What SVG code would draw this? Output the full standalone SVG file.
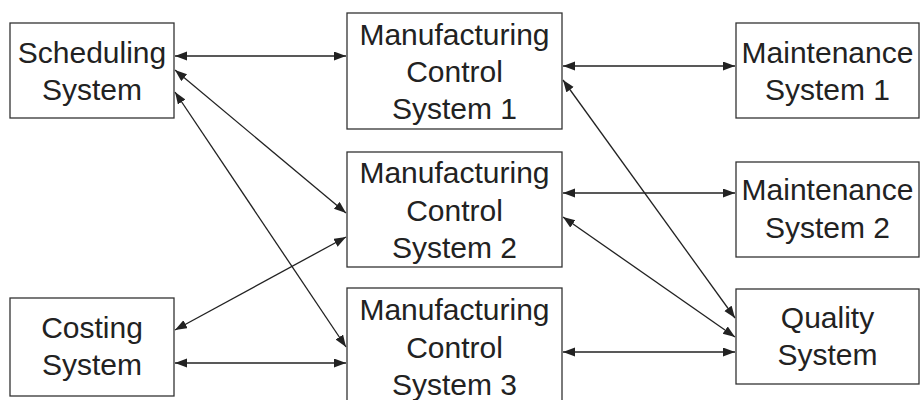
<svg xmlns="http://www.w3.org/2000/svg" width="920" height="400" viewBox="0 0 920 400">
<style>
  .box{fill:#fff;stroke:#333;stroke-width:1.3}
  .t{font-family:"Liberation Sans",Arial,sans-serif;font-size:30px;fill:#222;text-anchor:middle}
  .c{stroke:#222;stroke-width:1.3;fill:none;marker-start:url(#ah);marker-end:url(#ah)}
</style>
<defs>
  <marker id="ah" markerUnits="userSpaceOnUse" markerWidth="13" markerHeight="10" refX="12" refY="4.5" orient="auto-start-reverse">
    <path d="M0,0 L12,4.5 L0,9 z" fill="#222"/>
  </marker>
</defs>
<rect width="920" height="400" fill="#fff"/>
<g id="connectors">
  <line class="c" x1="175" y1="56" x2="346" y2="56"/>
  <line class="c" x1="175" y1="70" x2="346" y2="213"/>
  <line class="c" x1="175" y1="92" x2="346" y2="347"/>
  <line class="c" x1="346" y1="237" x2="175" y2="330"/>
  <line class="c" x1="175" y1="363" x2="346" y2="363"/>
  <line class="c" x1="563" y1="66" x2="735" y2="66"/>
  <line class="c" x1="563" y1="80" x2="735" y2="318"/>
  <line class="c" x1="563" y1="193" x2="735" y2="193"/>
  <line class="c" x1="563" y1="217" x2="735" y2="337"/>
  <line class="c" x1="563" y1="352" x2="735" y2="352"/>
</g>
<g id="scheduling">
  <rect class="box" x="10" y="23" width="164" height="95"/>
  <text class="t" x="92" y="63">Scheduling</text>
  <text class="t" x="92" y="100">System</text>
</g>
<g id="costing">
  <rect class="box" x="10" y="298" width="164" height="98"/>
  <text class="t" x="92" y="338">Costing</text>
  <text class="t" x="92" y="375">System</text>
</g>
<g id="mcs1">
  <rect class="box" x="347" y="13" width="215" height="116"/>
  <text class="t" x="454.5" y="45">Manufacturing</text>
  <text class="t" x="454.5" y="82">Control</text>
  <text class="t" x="454.5" y="119">System 1</text>
</g>
<g id="mcs2">
  <rect class="box" x="347" y="152" width="215" height="115"/>
  <text class="t" x="454.5" y="183">Manufacturing</text>
  <text class="t" x="454.5" y="221">Control</text>
  <text class="t" x="454.5" y="258">System 2</text>
</g>
<g id="mcs3">
  <rect class="box" x="347" y="288" width="215" height="116"/>
  <text class="t" x="454.5" y="320">Manufacturing</text>
  <text class="t" x="454.5" y="358">Control</text>
  <text class="t" x="454.5" y="395">System 3</text>
</g>
<g id="maint1">
  <rect class="box" x="736" y="23" width="183" height="95"/>
  <text class="t" x="827.5" y="63">Maintenance</text>
  <text class="t" x="827.5" y="100">System 1</text>
</g>
<g id="maint2">
  <rect class="box" x="736" y="162" width="183" height="95"/>
  <text class="t" x="827.5" y="200">Maintenance</text>
  <text class="t" x="827.5" y="238">System 2</text>
</g>
<g id="quality">
  <rect class="box" x="736" y="289" width="183" height="95"/>
  <text class="t" x="827.5" y="328">Quality</text>
  <text class="t" x="827.5" y="365">System</text>
</g>
</svg>
